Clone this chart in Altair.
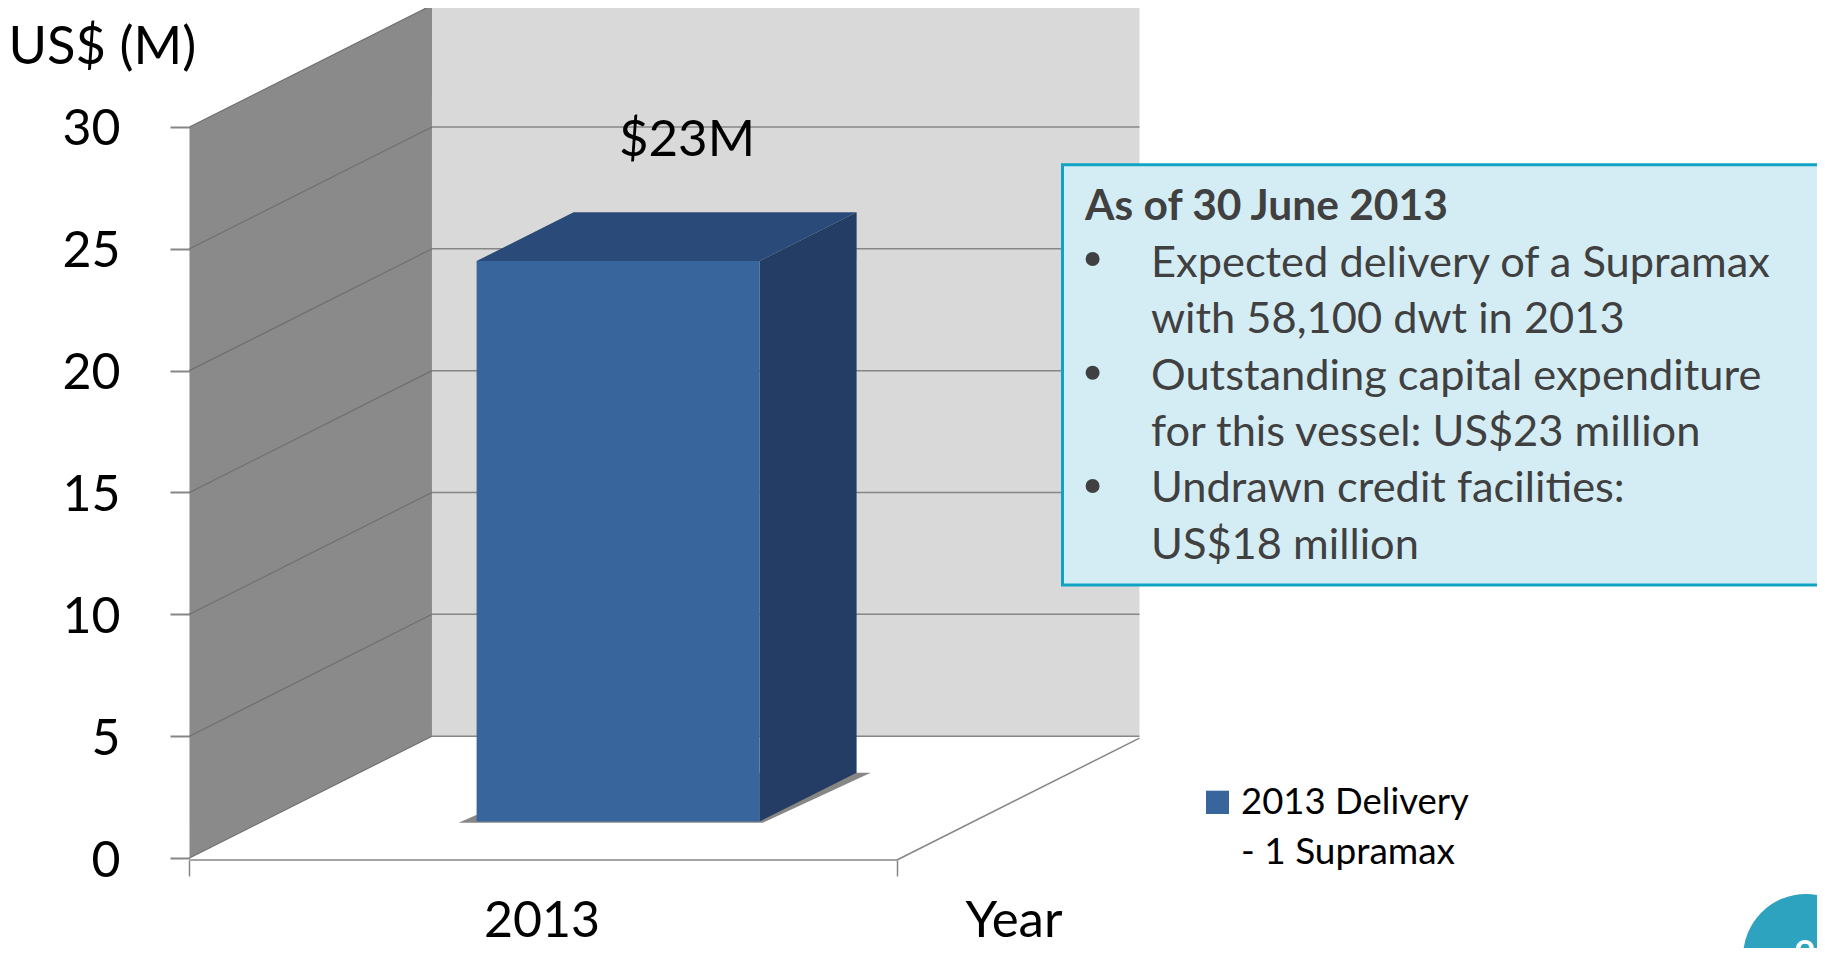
import altair as alt
import numpy as np
import pandas as pd

# ---- chart values ----
years = ["2013"]
deliveries = [23]
y_ticks = [0, 5, 10, 15, 20, 25, 30]
value_label = "$23M"
legend_lines = ["2013 Delivery", "- 1 Supramax"]

# ---- 3D projection: width unit u, depth d, value v ----
DX, DY = 0.34276, 5.0
BAR_U = (0.303, 0.703)
BAR_D = (0.30, 0.70)
FLOOR = -0.08
W, H = 1809, 940
X_DOMAIN = [-0.2565, 2.3004]
Y_DOMAIN = [-3.693, 34.883]

FONT = "Lato"
GREY = "#868686"


def P(u, d, v):
    return (u + DX * d, v + DY * d)


def face(points):
    """Rows for a filled convex polygon drawn as an area."""
    pts = np.array(points, dtype=float)
    xs_ = np.unique(pts[:, 0])
    n = len(pts)
    tops, bots = [], []
    for x in xs_:
        vals = []
        for i in range(n):
            a, b = pts[i], pts[(i + 1) % n]
            lo, hi = min(a[0], b[0]), max(a[0], b[0])
            if lo - 1e-9 <= x <= hi + 1e-9:
                if abs(a[0] - b[0]) < 1e-9:
                    vals += [a[1], b[1]]
                else:
                    vals.append(a[1] + (x - a[0]) / (b[0] - a[0]) * (b[1] - a[1]))
        tops.append(max(vals))
        bots.append(min(vals))
    return pd.DataFrame({"x": xs_, "y": tops, "y2": bots})


xs = alt.Scale(domain=X_DOMAIN, nice=False, zero=False)
ys = alt.Scale(domain=Y_DOMAIN, nice=False, zero=False)
X_AXIS = alt.Axis(
    values=[0, 1], labels=False, title=None, domain=False, grid=False,
    orient="bottom", offset=-88, tickSize=16, tickColor=GREY, tickWidth=1.5)
Y_AXIS = alt.Axis(
    values=y_ticks, title=None, domain=False, grid=False, orient="left",
    offset=-181.5, tickSize=19.5, tickColor=GREY, tickWidth=2,
    labelFont=FONT, labelFontSize=50, labelColor="#000000", labelPadding=50,
    labelOffset=3, format="d")


def area(points, color, opacity=1.0):
    return alt.Chart(face(points)).mark_area(
        color=color, opacity=opacity, interpolate="linear"
    ).encode(
        x=alt.X("x:Q", scale=xs, axis=X_AXIS),
        y=alt.Y("y:Q", scale=ys, axis=Y_AXIS),
        y2="y2:Q",
    )


def lines(segments, color=GREY, width=1.5):
    rows = []
    for k, (a, b) in enumerate(segments):
        rows.append({"k": k, "o": 0, "x": a[0], "y": a[1]})
        rows.append({"k": k, "o": 1, "x": b[0], "y": b[1]})
    return alt.Chart(pd.DataFrame(rows)).mark_line(
        color=color, strokeWidth=width
    ).encode(
        x=alt.X("x:Q", scale=xs, axis=X_AXIS),
        y=alt.Y("y:Q", scale=ys, axis=Y_AXIS),
        detail="k:N",
        order="o:Q",
    )


def label(text, px, py, size, color="#000000", weight="normal", align="left"):
    """Free annotation placed in page pixels."""
    return alt.Chart(pd.DataFrame({"t": [text]})).mark_text(
        font=FONT, fontSize=size, color=color, fontWeight=weight,
        align=align, baseline="alphabetic",
    ).encode(x=alt.value(px - 8), y=alt.value(py - 8), text="t:N")


top = y_ticks[-1]
layers = []

# walls
layers.append(area([P(0, 1, 0), P(1, 1, 0), P(1, 1, top), P(0, 1, top)], "#d9d9d9"))
layers.append(area([P(0, 0, 0), P(0, 1, 0), P(0, 1, top), P(0, 0, top)], "#8a8a8a"))

# grid
layers.append(lines([(P(0, 1, v), P(1, 1, v)) for v in y_ticks], GREY, 1.5))
layers.append(lines([(P(0, 0, v), P(0, 1, v)) for v in y_ticks], "#6f6f6f", 1.2))
# floor edges
layers.append(lines([
    (P(0, 0, FLOOR), P(1, 0, FLOOR)),
    (P(1, 0, FLOOR), P(1, 1, FLOOR)),
], GREY, 1.5))

# bar
v = deliveries[0]
u0, u1 = BAR_U
d0, d1 = BAR_D
layers.append(area([
    P(u0 - 0.022, d0 - 0.01, 0),
    P(u1 + 0.008, d0 - 0.01, 0),
    P(u1 + 0.02, d1, 0),
    P(u0, d1, 0),
], "#5f5f5f", 0.75))
layers.append(area([P(u0, d0, v), P(u1, d0, v), P(u1, d1, v), P(u0, d1, v)], "#2a4b79"))
layers.append(area([P(u1, d0, 0), P(u1, d1, 0), P(u1, d1, v), P(u1, d0, v)], "#243d64"))
layers.append(area([P(u0, d0, 0), P(u1, d0, 0), P(u1, d0, v), P(u0, d0, v)], "#37659c"))

# chart texts
layers.append(label("US$ (M)", 8.5, 64, 52.5))
layers.append(label(value_label, 687, 156, 51, align="center"))
layers.append(label(years[0], 542, 937, 50, align="center"))
layers.append(label("Year", 1014, 937, 51, align="center"))

# note box
layers.append(alt.Chart(pd.DataFrame({"a": [0]})).mark_rect(
    fill="#d4edf5", stroke="#10a3c4", strokeWidth=3
).encode(x=alt.value(1054.5), x2=alt.value(1840), y=alt.value(156.7), y2=alt.value(577)))
layers.append(label("As of 30 June 2013", 1085, 220, 42.5, "#404040", "bold"))
note_lines = [
    ("Expected delivery of a Supramax", 276.5),
    ("with 58,100 dwt in 2013", 333),
    ("Outstanding capital expenditure", 389.5),
    ("for this vessel: US$23 million", 445.5),
    ("Undrawn credit facilities:", 502),
    ("US$18 million", 558.5),
]
for t, yb in note_lines:
    layers.append(label(t, 1151, yb, 43.4, "#404040"))
for yb in [259, 372.7, 486]:
    layers.append(alt.Chart(pd.DataFrame({"a": [0]})).mark_point(
        shape="circle", filled=True, color="#404040", size=196, opacity=1
    ).encode(x=alt.value(1092.6 - 8), y=alt.value(yb - 8)))

# legend
layers.append(alt.Chart(pd.DataFrame({"a": [0]})).mark_rect(fill="#37659c").encode(
    x=alt.value(1198), x2=alt.value(1221), y=alt.value(782.7), y2=alt.value(806)))
layers.append(label(legend_lines[0], 1241, 814, 36.5))
layers.append(label(legend_lines[1], 1241, 864, 37))

# page badge
layers.append(alt.Chart(pd.DataFrame({"a": [0]})).mark_point(
    shape="circle", filled=True, color="#2ea3bf", size=15876, opacity=1
).encode(x=alt.value(1806 - 8), y=alt.value(957 - 8)))
layers.append(label("9", 1805, 966, 36, "#ffffff", "bold", "center"))

chart = alt.layer(*layers).properties(
    width=W, height=H, autosize=alt.AutoSizeParams(type="none"), padding=0,
    background="#ffffff",
).configure_view(stroke=None)

chart.save("out.html", embed_options={"renderer": "svg", "actions": False})
